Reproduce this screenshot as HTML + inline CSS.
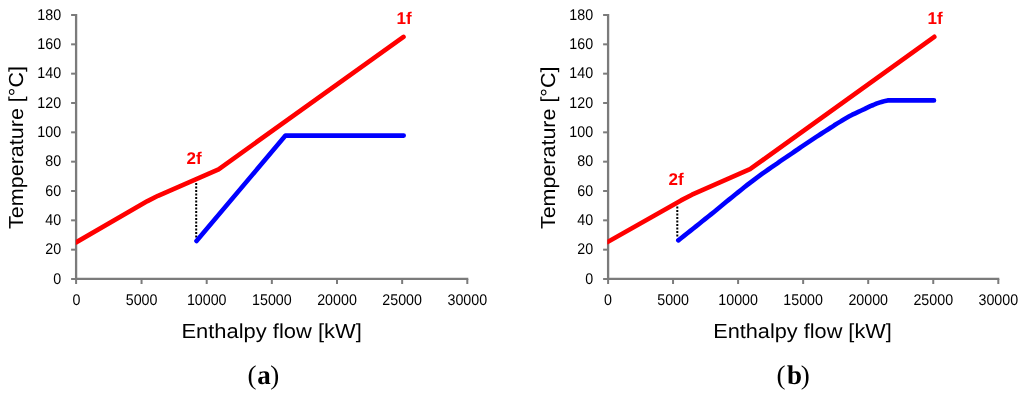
<!DOCTYPE html>
<html><head><meta charset="utf-8"><style>
html,body{margin:0;padding:0;background:#fff;}
svg{display:block;will-change:transform;text-rendering:geometricPrecision;}
.tk{font-family:"Liberation Sans",sans-serif;font-size:15.5px;fill:#000;}
.tt{font-family:"Liberation Sans",sans-serif;font-size:20.3px;fill:#000;}
.lb{font-family:"Liberation Sans",sans-serif;font-size:17px;font-weight:bold;fill:#FF0000;}
.sb{font-family:"Liberation Serif",serif;font-size:27px;fill:#000;}
</style></head><body>
<svg width="1024" height="394" viewBox="0 0 1024 394">
<defs>
<clipPath id="clip0"><rect x="75.8" y="0" width="400" height="279"/></clipPath>
<clipPath id="clip1"><rect x="607.3" y="0" width="400" height="279"/></clipPath>
</defs>
<rect width="1024" height="394" fill="#fff"/>
<line x1="76.1" y1="14.0" x2="76.1" y2="280.0" stroke="#7b7b7b" stroke-width="2.3"/>
<line x1="75.1" y1="278.9" x2="468.30000000000007" y2="278.9" stroke="#7b7b7b" stroke-width="2.3"/>
<line x1="71.1" y1="15.00" x2="76.1" y2="15.00" stroke="#7b7b7b" stroke-width="2"/>
<line x1="71.1" y1="44.33" x2="76.1" y2="44.33" stroke="#7b7b7b" stroke-width="2"/>
<line x1="71.1" y1="73.67" x2="76.1" y2="73.67" stroke="#7b7b7b" stroke-width="2"/>
<line x1="71.1" y1="103.00" x2="76.1" y2="103.00" stroke="#7b7b7b" stroke-width="2"/>
<line x1="71.1" y1="132.33" x2="76.1" y2="132.33" stroke="#7b7b7b" stroke-width="2"/>
<line x1="71.1" y1="161.67" x2="76.1" y2="161.67" stroke="#7b7b7b" stroke-width="2"/>
<line x1="71.1" y1="191.00" x2="76.1" y2="191.00" stroke="#7b7b7b" stroke-width="2"/>
<line x1="71.1" y1="220.33" x2="76.1" y2="220.33" stroke="#7b7b7b" stroke-width="2"/>
<line x1="71.1" y1="249.67" x2="76.1" y2="249.67" stroke="#7b7b7b" stroke-width="2"/>
<line x1="71.1" y1="279.00" x2="76.1" y2="279.00" stroke="#7b7b7b" stroke-width="2"/>
<line x1="76.10" y1="279.0" x2="76.10" y2="284.0" stroke="#7b7b7b" stroke-width="2"/>
<line x1="141.55" y1="279.0" x2="141.55" y2="284.0" stroke="#7b7b7b" stroke-width="2"/>
<line x1="206.70" y1="279.0" x2="206.70" y2="284.0" stroke="#7b7b7b" stroke-width="2"/>
<line x1="271.85" y1="279.0" x2="271.85" y2="284.0" stroke="#7b7b7b" stroke-width="2"/>
<line x1="337.00" y1="279.0" x2="337.00" y2="284.0" stroke="#7b7b7b" stroke-width="2"/>
<line x1="402.15" y1="279.0" x2="402.15" y2="284.0" stroke="#7b7b7b" stroke-width="2"/>
<line x1="467.30" y1="279.0" x2="467.30" y2="284.0" stroke="#7b7b7b" stroke-width="2"/>
<text transform="translate(61.10,19.50) scale(0.92,1)" class="tk" text-anchor="end">180</text>
<text transform="translate(61.10,48.83) scale(0.92,1)" class="tk" text-anchor="end">160</text>
<text transform="translate(61.10,78.17) scale(0.92,1)" class="tk" text-anchor="end">140</text>
<text transform="translate(61.10,107.50) scale(0.92,1)" class="tk" text-anchor="end">120</text>
<text transform="translate(61.10,136.83) scale(0.92,1)" class="tk" text-anchor="end">100</text>
<text transform="translate(61.10,166.17) scale(0.92,1)" class="tk" text-anchor="end">80</text>
<text transform="translate(61.10,195.50) scale(0.92,1)" class="tk" text-anchor="end">60</text>
<text transform="translate(61.10,224.83) scale(0.92,1)" class="tk" text-anchor="end">40</text>
<text transform="translate(61.10,254.17) scale(0.92,1)" class="tk" text-anchor="end">20</text>
<text transform="translate(61.10,283.50) scale(0.92,1)" class="tk" text-anchor="end">0</text>
<text transform="translate(76.40,304.6) scale(0.92,1)" class="tk" text-anchor="middle">0</text>
<text transform="translate(141.55,304.6) scale(0.92,1)" class="tk" text-anchor="middle">5000</text>
<text transform="translate(206.70,304.6) scale(0.92,1)" class="tk" text-anchor="middle">10000</text>
<text transform="translate(271.85,304.6) scale(0.92,1)" class="tk" text-anchor="middle">15000</text>
<text transform="translate(337.00,304.6) scale(0.92,1)" class="tk" text-anchor="middle">20000</text>
<text transform="translate(402.15,304.6) scale(0.92,1)" class="tk" text-anchor="middle">25000</text>
<text transform="translate(467.30,304.6) scale(0.92,1)" class="tk" text-anchor="middle">30000</text>
<text transform="translate(22.8,229) rotate(-90)" class="tt" textLength="163" lengthAdjust="spacingAndGlyphs">Temperature [°C]</text>
<text x="181.4" y="337.7" class="tt" textLength="180.4" lengthAdjust="spacingAndGlyphs">Enthalpy flow [kW]</text>
<line x1="196.2" y1="182.9" x2="196.2" y2="238" stroke="#000" stroke-width="2" stroke-dasharray="2 1.5"/>
<polyline points="196.5,241 285.5,135.6 403.7,135.6" fill="none" stroke="#0000FF" stroke-width="4.6" stroke-linejoin="round" stroke-linecap="round"/>
<polyline points="76,242.4 147.5,201.1 158,195.8 218.6,169.3 403.5,36.9" fill="none" stroke="#FF0000" stroke-width="4.6" stroke-linejoin="round" stroke-linecap="round" clip-path="url(#clip0)"/>
<text x="186.5" y="163.7" class="lb">2f</text>
<text x="396.5" y="24.2" class="lb">1f</text>
<text x="247.5" y="384" class="sb">(</text><text x="257.3" y="384" class="sb" font-weight="bold" font-size="25.5px">a</text><text x="270.3" y="384" class="sb">)</text>
<line x1="608.1" y1="14.0" x2="608.1" y2="280.0" stroke="#7b7b7b" stroke-width="2.3"/>
<line x1="607.1" y1="278.9" x2="999.3" y2="278.9" stroke="#7b7b7b" stroke-width="2.3"/>
<line x1="603.1" y1="15.00" x2="608.1" y2="15.00" stroke="#7b7b7b" stroke-width="2"/>
<line x1="603.1" y1="44.33" x2="608.1" y2="44.33" stroke="#7b7b7b" stroke-width="2"/>
<line x1="603.1" y1="73.67" x2="608.1" y2="73.67" stroke="#7b7b7b" stroke-width="2"/>
<line x1="603.1" y1="103.00" x2="608.1" y2="103.00" stroke="#7b7b7b" stroke-width="2"/>
<line x1="603.1" y1="132.33" x2="608.1" y2="132.33" stroke="#7b7b7b" stroke-width="2"/>
<line x1="603.1" y1="161.67" x2="608.1" y2="161.67" stroke="#7b7b7b" stroke-width="2"/>
<line x1="603.1" y1="191.00" x2="608.1" y2="191.00" stroke="#7b7b7b" stroke-width="2"/>
<line x1="603.1" y1="220.33" x2="608.1" y2="220.33" stroke="#7b7b7b" stroke-width="2"/>
<line x1="603.1" y1="249.67" x2="608.1" y2="249.67" stroke="#7b7b7b" stroke-width="2"/>
<line x1="603.1" y1="279.00" x2="608.1" y2="279.00" stroke="#7b7b7b" stroke-width="2"/>
<line x1="608.10" y1="279.0" x2="608.10" y2="284.0" stroke="#7b7b7b" stroke-width="2"/>
<line x1="673.05" y1="279.0" x2="673.05" y2="284.0" stroke="#7b7b7b" stroke-width="2"/>
<line x1="738.10" y1="279.0" x2="738.10" y2="284.0" stroke="#7b7b7b" stroke-width="2"/>
<line x1="803.15" y1="279.0" x2="803.15" y2="284.0" stroke="#7b7b7b" stroke-width="2"/>
<line x1="868.20" y1="279.0" x2="868.20" y2="284.0" stroke="#7b7b7b" stroke-width="2"/>
<line x1="933.25" y1="279.0" x2="933.25" y2="284.0" stroke="#7b7b7b" stroke-width="2"/>
<line x1="998.30" y1="279.0" x2="998.30" y2="284.0" stroke="#7b7b7b" stroke-width="2"/>
<text transform="translate(593.10,19.50) scale(0.92,1)" class="tk" text-anchor="end">180</text>
<text transform="translate(593.10,48.83) scale(0.92,1)" class="tk" text-anchor="end">160</text>
<text transform="translate(593.10,78.17) scale(0.92,1)" class="tk" text-anchor="end">140</text>
<text transform="translate(593.10,107.50) scale(0.92,1)" class="tk" text-anchor="end">120</text>
<text transform="translate(593.10,136.83) scale(0.92,1)" class="tk" text-anchor="end">100</text>
<text transform="translate(593.10,166.17) scale(0.92,1)" class="tk" text-anchor="end">80</text>
<text transform="translate(593.10,195.50) scale(0.92,1)" class="tk" text-anchor="end">60</text>
<text transform="translate(593.10,224.83) scale(0.92,1)" class="tk" text-anchor="end">40</text>
<text transform="translate(593.10,254.17) scale(0.92,1)" class="tk" text-anchor="end">20</text>
<text transform="translate(593.10,283.50) scale(0.92,1)" class="tk" text-anchor="end">0</text>
<text transform="translate(608.00,304.6) scale(0.92,1)" class="tk" text-anchor="middle">0</text>
<text transform="translate(673.05,304.6) scale(0.92,1)" class="tk" text-anchor="middle">5000</text>
<text transform="translate(738.10,304.6) scale(0.92,1)" class="tk" text-anchor="middle">10000</text>
<text transform="translate(803.15,304.6) scale(0.92,1)" class="tk" text-anchor="middle">15000</text>
<text transform="translate(868.20,304.6) scale(0.92,1)" class="tk" text-anchor="middle">20000</text>
<text transform="translate(933.25,304.6) scale(0.92,1)" class="tk" text-anchor="middle">25000</text>
<text transform="translate(998.30,304.6) scale(0.92,1)" class="tk" text-anchor="middle">30000</text>
<text transform="translate(554.7,229.1) rotate(-90)" class="tt" textLength="162.5" lengthAdjust="spacingAndGlyphs">Temperature [°C]</text>
<text x="713.2" y="337.7" class="tt" textLength="178.6" lengthAdjust="spacingAndGlyphs">Enthalpy flow [kW]</text>
<line x1="677.3" y1="206.5" x2="677.3" y2="237" stroke="#000" stroke-width="2" stroke-dasharray="2 1.5"/>
<polyline points="678.3,240.4 681.3,238.0 684.3,235.7 687.3,233.3 690.3,230.9 693.3,228.5 696.3,226.1 699.3,223.7 702.3,221.3 705.3,218.9 708.3,216.5 711.3,214.1 714.3,211.7 717.3,209.2 720.3,206.8 723.3,204.3 726.3,201.8 729.3,199.4 732.3,196.9 735.3,194.5 738.3,192.1 741.3,189.7 744.3,187.3 747.3,184.9 750.3,182.6 753.3,180.3 756.3,178.1 759.3,175.9 762.3,173.7 765.3,171.6 768.3,169.5 771.3,167.4 774.3,165.3 777.3,163.3 780.3,161.2 783.3,159.2 786.3,157.2 789.3,155.1 792.3,153.1 795.3,151.0 798.3,149.0 801.3,146.9 804.3,144.9 807.3,142.9 810.3,140.9 813.3,138.9 816.3,136.9 819.3,135.0 822.3,133.0 825.3,131.1 828.3,129.2 831.3,127.3 834.3,125.3 837.3,123.4 840.3,121.6 843.3,119.7 846.3,118.0 849.3,116.3 852.3,114.7 855.3,113.3 858.3,111.9 861.3,110.5 864.3,109.1 867.3,107.6 870.3,106.2 873.3,105.0 876.3,103.7 879.3,102.6 882.3,101.7 885.3,100.9 887.6,100.4 934,100.4" fill="none" stroke="#0000FF" stroke-width="4.6" stroke-linejoin="round" stroke-linecap="round"/>
<polyline points="607.5,242 681,200.4 692,194.7 750,169.2 934.3,36.8" fill="none" stroke="#FF0000" stroke-width="4.6" stroke-linejoin="round" stroke-linecap="round" clip-path="url(#clip1)"/>
<text x="668.5" y="185.3" class="lb">2f</text>
<text x="927.5" y="24.4" class="lb">1f</text>
<text x="776.5" y="384" class="sb">(</text><text x="787" y="384" class="sb" font-weight="bold" font-size="25.5px">b</text><text x="800.8" y="384" class="sb">)</text>
</svg>
</body></html>
